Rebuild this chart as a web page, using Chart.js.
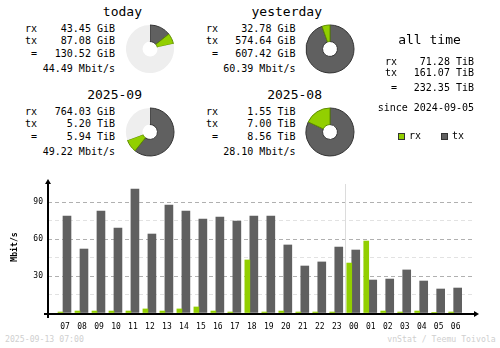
<!DOCTYPE html>
<html>
<head>
<meta charset="utf-8">
<script src="https://cdn.jsdelivr.net/npm/chart.js@4.4.1/dist/chart.umd.min.js"></script>
<style>
  html, body { margin: 0; padding: 0; background: #fff; }
  #page { position: relative; width: 500px; height: 348px; overflow: hidden; background: #fff;
          font-family: "DejaVu Sans Mono", monospace; color: #000; }
  .t { position: absolute; white-space: pre; }
  canvas { position: absolute; }
  .key { position: absolute; width: 5px; height: 5px; border: 1px solid #333; }
</style>
</head>
<body>
<div id="page">
  <canvas id="hourly" width="500" height="160" style="left:0;top:170px"></canvas>
</div>
<script>
// ---- summary figures, as printed ----
const periods = ['today', 'yesterday', '2025-09', '2025-08'];
const periodRx = [43.45, 32.78, 764.03, 1.55];
const periodRxUnit = ['GiB', 'GiB', 'GiB', 'TiB'];
const periodTx = [87.08, 574.64, 5.20, 7.00];
const periodTxUnit = ['GiB', 'GiB', 'TiB', 'TiB'];
const periodTotal = [130.52, 607.42, 5.94, 8.56];
const periodTotalUnit = ['GiB', 'GiB', 'TiB', 'TiB'];
const periodRate = [44.49, 60.39, 49.22, 28.10]; // Mbit/s

const allTimeRx = 71.28;     // TiB
const allTimeTx = 161.07;
const allTimeTotal = 232.35;
const sinceDate = '2024-09-05';
const stamp = '2025-09-13 07:00';

// ---- hourly average rates, Mbit/s ----
const hours = ['07', '08', '09', '10', '11', '12', '13', '14', '15', '16', '17', '18',
               '19', '20', '21', '22', '23', '00', '01', '02', '03', '04', '05', '06'];
const rxRate = [0.8, 1.6, 1.6, 1.6, 1.6, 3.3, 1.6, 3.3, 4.9, 1.6, 0.8, 43.1,
                0.8, 1.6, 0.8, 0.8, 0.8, 40.6, 58.5, 1.6, 0.8, 1.6, 0.3, 0.8];
const txRate = [78.8, 52.0, 82.9, 69.1, 100.8, 64.2, 87.8, 82.9, 76.4, 78.0, 74.8, 78.8,
                78.8, 55.3, 38.2, 41.5, 53.6, 51.2, 26.8, 27.6, 35.0, 26.0, 19.5, 20.3];
const yLabels = [30, 60, 90];

const RX_COLOR = '#92cf00';
const TX_COLOR = '#606060';
const RX_EDGE = '#5e8c00';
const TX_EDGE = '#353535';
const REST_COLOR = '#eeeeee';
const FONT = '"DejaVu Sans Mono", monospace';
const unitFactor = { GiB: 1, TiB: 1024 };

const page = document.getElementById('page');

function text(str, x, base, size, align, extra) {
    const el = document.createElement('div');
    el.className = 't';
    el.textContent = str;
    el.style.fontSize = size + 'px';
    el.style.lineHeight = size + 'px';
    el.style.top = (base - size * 0.846) + 'px';
    if (align === 'right') {
        el.style.right = (500 - x) + 'px';
    } else if (align === 'center') {
        el.style.left = (x - 100) + 'px';
        el.style.width = '200px';
        el.style.textAlign = 'center';
    } else {
        el.style.left = x + 'px';
    }
    if (extra) Object.assign(el.style, extra);
    page.appendChild(el);
}

// where each period block sits
const blocks = [
    { left: 25,  right: 115,   titleRight: 142, base: 32.7,  cx: 150, cy: 49 },
    { left: 206, right: 295.5, titleRight: 322, base: 32.7,  cx: 330, cy: 49 },
    { left: 25,  right: 115,   titleRight: 142, base: 115.7, cx: 150, cy: 132 },
    { left: 206, right: 295.5, titleRight: 322, base: 115.7, cx: 330, cy: 132 }
];
const rowOffsets = [0, 12, 24.5, 40];

periods.forEach((name, i) => {
    const b = blocks[i];
    text(name, b.titleRight, b.base - 17, 13, 'right');
    const rows = [
        ['rx', periodRx[i].toFixed(2) + ' ' + periodRxUnit[i]],
        ['tx', periodTx[i].toFixed(2) + ' ' + periodTxUnit[i]],
        [' =', periodTotal[i].toFixed(2) + ' ' + periodTotalUnit[i]],
        ['', periodRate[i].toFixed(2) + ' Mbit/s']
    ];
    rows.forEach((r, k) => {
        if (r[0]) text(r[0], b.left, b.base + rowOffsets[k], 10, 'left');
        text(r[1], b.right, b.base + rowOffsets[k], 10, 'right');
    });

    // donut: tx then rx from the top, rest up to the larger total of the pair
    const j = i ^ 1;
    const own = periodTotal[i] * unitFactor[periodTotalUnit[i]];
    const other = periodTotal[j] * unitFactor[periodTotalUnit[j]];
    const tx = periodTx[i] * unitFactor[periodTxUnit[i]];
    const rx = periodRx[i] * unitFactor[periodRxUnit[i]];
    const rest = Math.max(0, Math.max(own, other) - own);

    const c = document.createElement('canvas');
    c.width = 52; c.height = 52;
    c.style.left = (b.cx - 26) + 'px';
    c.style.top = (b.cy - 26) + 'px';
    page.appendChild(c);
    new Chart(c, {
        type: 'doughnut',
        data: {
            labels: ['tx', 'rx', ''],
            datasets: [{
                data: [tx, rx, rest],
                backgroundColor: [TX_COLOR, RX_COLOR, REST_COLOR],
                borderColor: [TX_EDGE, RX_EDGE, REST_COLOR],
                borderWidth: [1, 1, 0],
                hoverBorderWidth: [1, 1, 0],
                hoverOffset: 0,
                offset: 0
            }]
        },
        options: {
            responsive: false,
            animation: false,
            devicePixelRatio: 1,
            events: [],
            cutout: '31%',
            layout: { padding: 1.5 },
            plugins: { legend: { display: false }, tooltip: { enabled: false } }
        }
    });
});

// all time column
text('all time', 429.5, 44, 13, 'center');
text('rx', 385, 65.3, 10, 'left');
text(allTimeRx.toFixed(2) + ' TiB', 474, 65.3, 10, 'right');
text('tx', 385, 76.7, 10, 'left');
text(allTimeTx.toFixed(2) + ' TiB', 474, 76.7, 10, 'right');
text(' =', 385, 91.7, 10, 'left');
text(allTimeTotal.toFixed(2) + ' TiB', 474, 91.7, 10, 'right');
text('since ' + sinceDate, 474, 111.7, 10, 'right');

// legend keys
[[398, RX_COLOR, 'rx'], [441, TX_COLOR, 'tx']].forEach(([x, col, lbl]) => {
    const k = document.createElement('div');
    k.className = 'key';
    k.style.left = x + 'px';
    k.style.top = '133px';
    k.style.background = col;
    page.appendChild(k);
    text(lbl, x + 11, 139.5, 10, 'left');
});

// footer
text(stamp, 5, 342.3, 8.2, 'left', { color: '#cfcfcf' });
text('vnStat / Teemu Toivola', 495.7, 342.3, 8.2, 'right', { color: '#cfcfcf' });

// ---- hourly bar chart ----
const axesPlugin = {
    id: 'axes',
    beforeDatasetsDraw(chart) {
        // day boundary between 23 and 00
        const ctx = chart.ctx;
        const { top, bottom } = chart.chartArea;
        const k = hours.indexOf('00');
        const txBar = chart.getDatasetMeta(1).data[k - 1];
        const rxBar = chart.getDatasetMeta(0).data[k];
        const x = Math.round(((txBar.x + txBar.width / 2) + (rxBar.x - rxBar.width / 2)) / 2) + 0.5;
        ctx.save();
        ctx.strokeStyle = '#dcdcdc';
        ctx.lineWidth = 1;
        ctx.beginPath();
        ctx.moveTo(x, top + 3);
        ctx.lineTo(x, bottom);
        ctx.stroke();
        ctx.restore();
    },
    afterDatasetsDraw(chart) {
        const ctx = chart.ctx;
        const { left, right, top, bottom } = chart.chartArea;
        ctx.save();
        ctx.strokeStyle = '#000';
        ctx.fillStyle = '#000';
        ctx.lineWidth = 2;
        ctx.beginPath();
        ctx.moveTo(left - 4, bottom + 1);
        ctx.lineTo(right + 2, bottom + 1);
        ctx.moveTo(left, bottom + 5);
        ctx.lineTo(left, top + 1);
        ctx.stroke();
        // arrow heads
        ctx.beginPath();
        ctx.moveTo(right + 6, bottom + 1);
        ctx.lineTo(right + 1, bottom - 2);
        ctx.lineTo(right + 1, bottom + 4);
        ctx.closePath();
        ctx.fill();
        ctx.beginPath();
        ctx.moveTo(left, top - 2);
        ctx.lineTo(left - 3, top + 3);
        ctx.lineTo(left + 3, top + 3);
        ctx.closePath();
        ctx.fill();
        ctx.restore();
    }
};

// 17 px per hour, first hour centred 15 px right of the y axis
const xMin = -15 / 17;
const xMax = xMin + 25.02;

new Chart(document.getElementById('hourly'), {
    type: 'bar',
    data: {
        datasets: [
            { label: 'rx', data: rxRate.map((v, i) => ({ x: i, y: v })), backgroundColor: RX_COLOR, barThickness: 5 },
            { label: 'tx', data: txRate.map((v, i) => ({ x: i, y: v })), backgroundColor: TX_COLOR, barThickness: 8 }
        ]
    },
    options: {
        responsive: false,
        animation: false,
        devicePixelRatio: 1,
        events: [],
        layout: { padding: { top: 11, right: 27, left: 0, bottom: 0 } },
        plugins: { legend: { display: false }, tooltip: { enabled: false } },
        scales: {
            x: {
                type: 'linear',
                offset: false,
                min: xMin,
                max: xMax,
                grid: { display: false, offset: false },
                border: { display: false },
                ticks: {
                    stepSize: 1,
                    autoSkip: false,
                    includeBounds: false,
                    maxRotation: 0,
                    minRotation: 0,
                    padding: 1,
                    labelOffset: 2,
                    color: '#000',
                    font: { family: FONT, size: 8 },
                    callback: v => (Number.isInteger(v) && hours[v]) ? hours[v] : ''
                },
                afterFit: s => { s.height = 17; }
            },
            y: {
                min: 0,
                max: 107.3,
                border: { display: false, dash: [4, 3] },
                grid: {
                    drawTicks: false,
                    lineWidth: 1,
                    color: c => {
                        const v = c.tick ? c.tick.value : 0;
                        if (v <= 0 || v > 100) return 'rgba(0,0,0,0)';
                        return v % 30 === 0 ? '#b0b0b0' : '#e2e2e2';
                    }
                },
                ticks: {
                    stepSize: 15,
                    padding: 5,
                    color: '#000',
                    font: { family: FONT, size: 8 },
                    callback: v => yLabels.includes(v) ? String(v) : ''
                },
                title: {
                    display: true,
                    text: 'Mbit/s',
                    color: '#000',
                    padding: { top: 10, bottom: 0 },
                    font: { family: FONT, size: 8.2, weight: 'bold' }
                },
                afterFit: s => { s.width = 48; }
            }
        }
    },
    plugins: [axesPlugin]
});
</script>
</body>
</html>
